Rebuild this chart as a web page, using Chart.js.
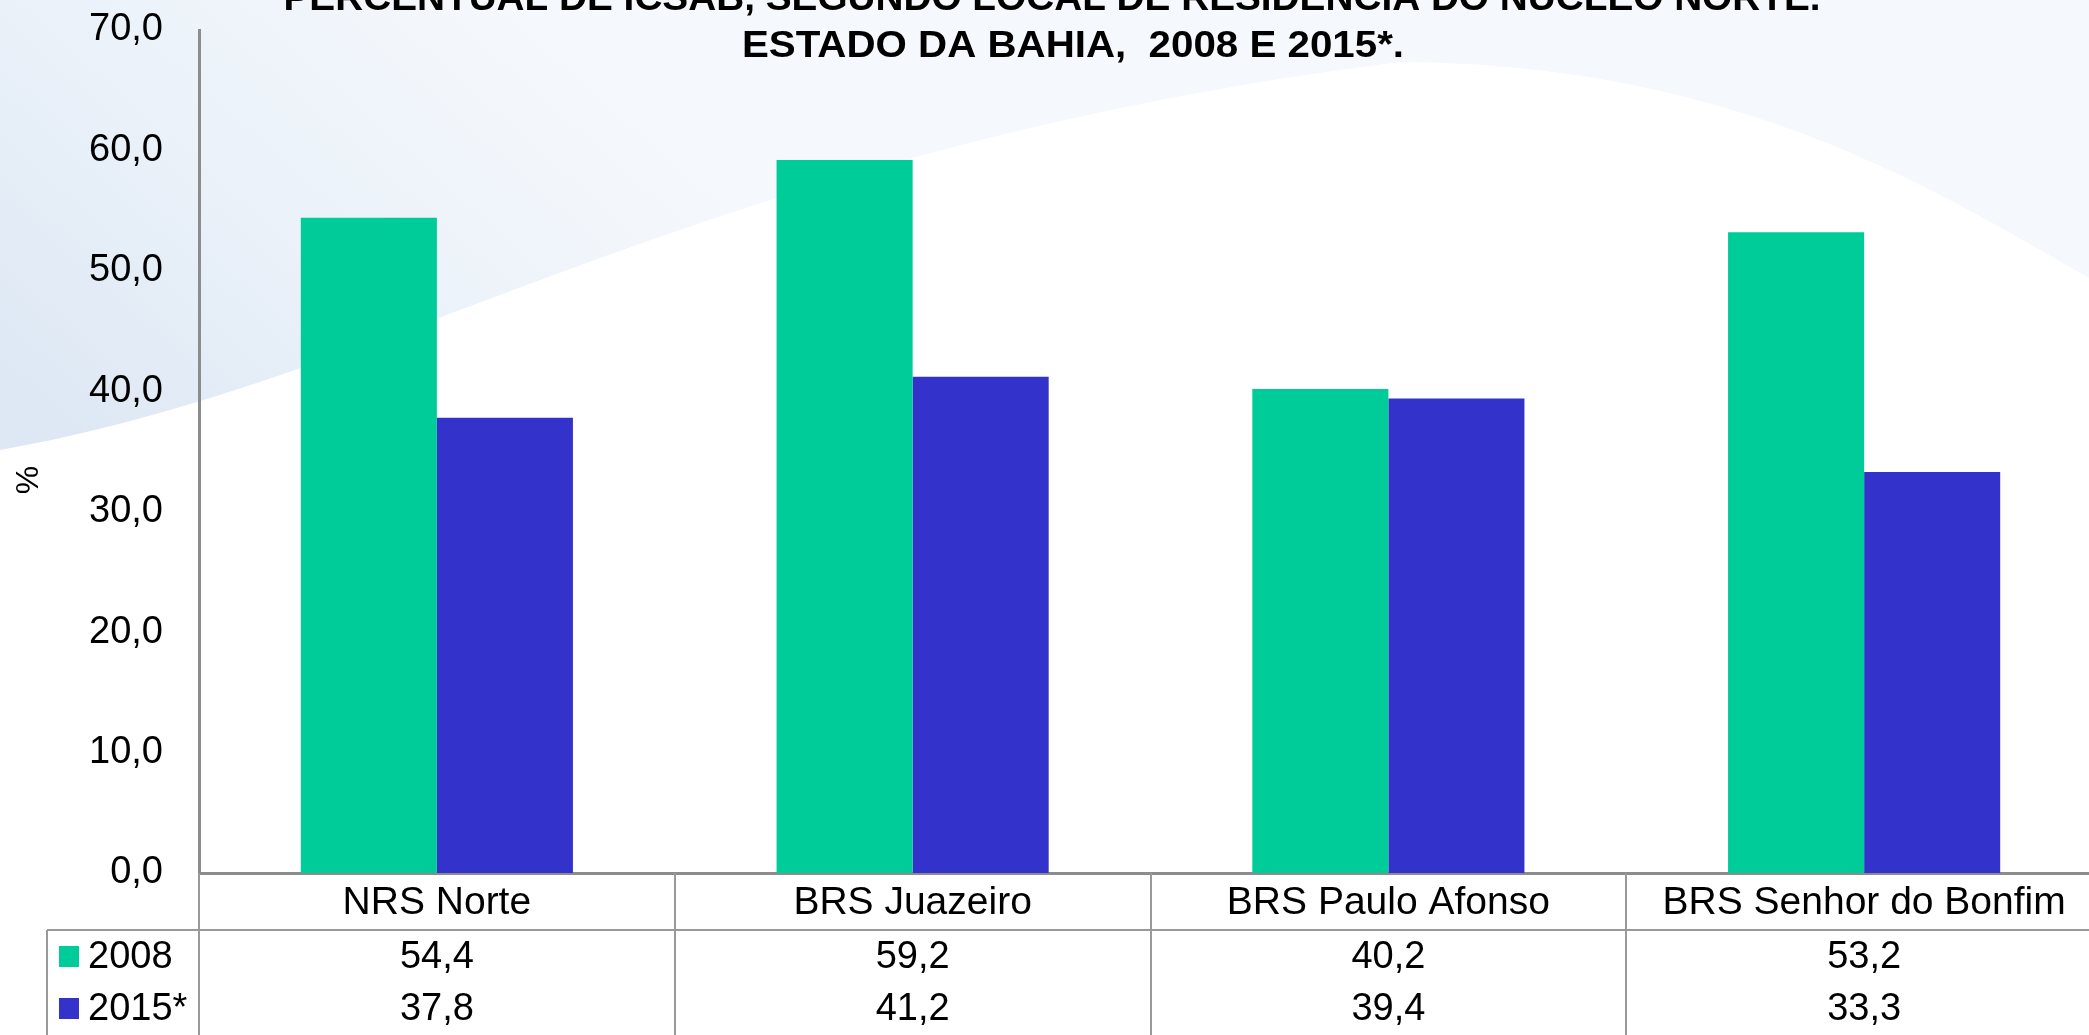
<!DOCTYPE html>
<html>
<head>
<meta charset="utf-8">
<script src="https://cdn.jsdelivr.net/npm/chart.js@4.4.1/dist/chart.umd.min.js"></script>
<style>
  html, body { margin: 0; padding: 0; background: #fff; overflow: hidden; }
  #wrap { position: relative; width: 2102px; height: 1035px; }
</style>
</head>
<body>
<div id="wrap"><canvas id="chart"></canvas></div>
<script>
// Chart values
const categories = ['NRS Norte', 'BRS Juazeiro', 'BRS Paulo Afonso', 'BRS Senhor do Bonfim'];
const seriesNames = ['2008', '2015*'];
const values2008 = [54.4, 59.2, 40.2, 53.2];
const values2015 = [37.8, 41.2, 39.4, 33.3];
const seriesColors = ['#00CC99', '#3333CC'];
const titleLines = [
  'PERCENTUAL DE ICSAB, SEGUNDO LOCAL DE RESIDÊNCIA DO NÚCLEO NORTE.',
  'ESTADO DA BAHIA,  2008 E 2015*.'
];
const yTitle = '%';

const FONT = '"Liberation Sans", Arial, sans-serif';
const fmt = v => v.toFixed(1).replace('.', ',');

// soft blue swoosh like the slide template
const backgroundPlugin = {
  id: 'slideBackground',
  beforeDraw(chart) {
    const ctx = chart.ctx;
    const w = chart.width;
    ctx.save();
    ctx.fillStyle = '#ffffff';
    ctx.fillRect(0, 0, w, chart.height);

    // tint above the big white arc, bluer towards the lower left
    ctx.beginPath();
    ctx.moveTo(0, 0);
    ctx.lineTo(0, 450);
    ctx.bezierCurveTo(400, 380, 700, 150, 1400, 62);
    ctx.bezierCurveTo(1750, 64, 1950, 200, w, 285);
    ctx.lineTo(w, 0);
    ctx.closePath();
    const g = ctx.createLinearGradient(500, 0, 100, 450);
    g.addColorStop(0, 'rgb(245,248,252)');
    g.addColorStop(0.55, 'rgb(234,241,249)');
    g.addColorStop(1, 'rgb(222,232,244)');
    ctx.fillStyle = g;
    ctx.fill();
    ctx.restore();
  }
};

// title, axis title, category header row and data table under the axis
const tablePlugin = {
  id: 'dataTable',
  afterDraw(chart) {
    const ctx = chart.ctx;
    const x = chart.scales.x;
    const area = chart.chartArea;
    const half = (x.getPixelForTick(1) - x.getPixelForTick(0)) / 2;
    const rowTop = area.bottom;
    const headerBottom = 930;
    const bottom = chart.height;
    const legendLeft = 47;

    ctx.save();
    // title, stretched to the width of the original lines
    ctx.fillStyle = '#000';
    ctx.textAlign = 'center';
    ctx.textBaseline = 'alphabetic';
    ctx.font = 'bold 36px ' + FONT;
    const titlePos = [[1052, 10, 1537], [1073, 57, 662]];
    titleLines.forEach((t, i) => {
      const [cx, cy, tw] = titlePos[i];
      const k = tw / ctx.measureText(t).width;
      ctx.save();
      ctx.translate(cx, cy);
      ctx.scale(k, 1);
      ctx.fillText(t, 0, 0);
      ctx.restore();
    });

    // y axis title
    ctx.save();
    ctx.translate(29, 480);
    ctx.rotate(-Math.PI / 2);
    ctx.font = '32px ' + FONT;
    ctx.textBaseline = 'middle';
    ctx.fillText(yTitle, 0, 0);
    ctx.restore();

    // grid lines of the table
    ctx.strokeStyle = '#999999';
    ctx.lineWidth = 2;
    ctx.beginPath();
    ctx.moveTo(legendLeft, headerBottom);
    ctx.lineTo(area.right, headerBottom);
    ctx.moveTo(legendLeft, headerBottom);
    ctx.lineTo(legendLeft, bottom);
    ctx.moveTo(area.left, rowTop);
    ctx.lineTo(area.left, bottom);
    for (let i = 1; i < categories.length; i++) {
      const bx = Math.round(x.getPixelForTick(i) - half);
      ctx.moveTo(bx, rowTop);
      ctx.lineTo(bx, bottom);
    }
    ctx.stroke();

    // header labels
    ctx.fillStyle = '#000';
    ctx.font = '39px ' + FONT;
    categories.forEach((c, i) => {
      ctx.fillText(c, x.getPixelForTick(i), 914);
    });

    // rows
    const rows = [values2008, values2015];
    const rowBase = [968, 1020];
    ctx.font = '38px ' + FONT;
    rows.forEach((vals, r) => {
      vals.forEach((v, i) => {
        ctx.textAlign = 'center';
        ctx.fillText(fmt(v), x.getPixelForTick(i), rowBase[r]);
      });
      ctx.fillStyle = seriesColors[r];
      ctx.fillRect(59, rowBase[r] - 22, 20, 21);
      ctx.fillStyle = '#000';
      ctx.textAlign = 'left';
      ctx.fillText(seriesNames[r], 88, rowBase[r]);
    });
    ctx.restore();
  }
};

const ctx = document.getElementById('chart').getContext('2d');
new Chart(ctx, {
  type: 'bar',
  data: {
    labels: categories,
    datasets: [
      { label: seriesNames[0], data: values2008, backgroundColor: seriesColors[0] },
      { label: seriesNames[1], data: values2015, backgroundColor: seriesColors[1] }
    ]
  },
  options: {
    responsive: true,
    maintainAspectRatio: false,
    animation: false,
    datasets: {
      bar: { categoryPercentage: 0.572, barPercentage: 1.0 }
    },
    layout: { padding: { top: 30, left: 0, right: 0, bottom: 0 } },
    plugins: {
      legend: { display: false },
      tooltip: { enabled: false }
    },
    scales: {
      x: {
        grid: { display: false },
        border: { display: true, color: '#8c8c8c', width: 3 },
        ticks: { display: false },
        afterFit: (scale) => { scale.height = 162; }
      },
      y: {
        min: 0,
        max: 70,
        grid: { display: false, drawTicks: false },
        border: { display: true, color: '#8c8c8c', width: 3 },
        ticks: {
          stepSize: 10,
          padding: 36,
          color: '#000',
          font: { family: FONT, size: 38 },
          callback: (v) => fmt(v)
        },
        afterFit: (scale) => {
          scale.width = 199;
          scale.paddingTop = 0;
          scale.paddingBottom = 0;
        }
      }
    }
  },
  plugins: [backgroundPlugin, tablePlugin]
});
</script>
</body>
</html>
